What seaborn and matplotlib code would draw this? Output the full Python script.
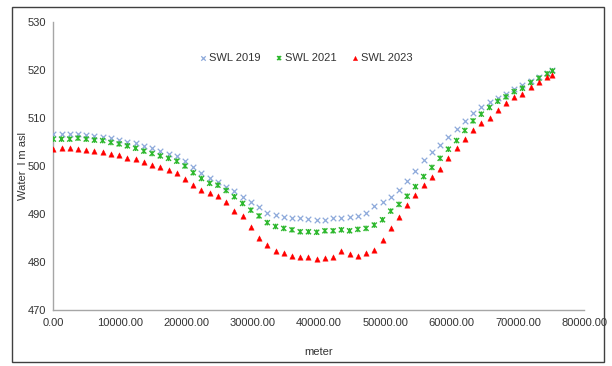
import matplotlib
matplotlib.use("Agg")
import matplotlib.pyplot as plt
import seaborn as sns
import pandas as pd
from matplotlib.path import Path
from matplotlib.patches import Rectangle
from matplotlib.ticker import FuncFormatter, FixedLocator

# ---- data ----
distance = [0, 1240, 2480, 3720, 4960, 6200, 7440, 8680, 9920, 11160,
            12400, 13640, 14880, 16120, 17360, 18600, 19840, 21080, 22320, 23560,
            24800, 26040, 27280, 28520, 29760, 31000, 32240, 33480, 34720, 35960,
            37200, 38440, 39680, 40920, 42160, 43400, 44640, 45880, 47120, 48360,
            49600, 50840, 52080, 53320, 54560, 55800, 57040, 58280, 59520, 60760,
            62000, 63240, 64480, 65720, 66960, 68200, 69440, 70680, 71920, 73160,
            74400, 75200]

swl_2019 = [506.6, 506.6, 506.6, 506.7, 506.5, 506.3, 506.1, 505.8, 505.4, 505.1,
            504.7, 504.2, 503.7, 503.2, 502.6, 502.1, 501.0, 499.7, 498.5, 497.4,
            496.6, 495.7, 494.7, 493.5, 492.4, 491.4, 490.3, 489.8, 489.4, 489.1,
            489.1, 488.9, 488.8, 488.8, 489.1, 489.1, 489.3, 489.6, 490.3, 491.7,
            492.5, 493.5, 495.0, 496.9, 498.9, 501.2, 503.0, 504.4, 506.1, 507.8,
            509.4, 511.0, 512.2, 513.3, 514.1, 515.1, 516.0, 516.9, 517.8, 518.6,
            519.4, 520.1]

swl_2021 = [505.6, 505.6, 505.6, 505.8, 505.6, 505.4, 505.3, 504.9, 504.6, 504.2,
            503.7, 503.1, 502.6, 502.1, 501.6, 501.0, 500.0, 498.6, 497.4, 496.4,
            496.0, 494.9, 493.6, 492.2, 490.8, 489.6, 488.2, 487.4, 487.0, 486.7,
            486.3, 486.3, 486.2, 486.5, 486.5, 486.7, 486.5, 486.8, 487.0, 487.7,
            488.8, 490.6, 492.0, 493.7, 495.7, 497.8, 499.7, 501.6, 503.5, 505.3,
            507.4, 509.4, 510.8, 512.2, 513.5, 514.4, 515.5, 516.2, 517.4, 518.3,
            519.2, 519.8]

swl_2023 = [503.5, 503.7, 503.7, 503.5, 503.3, 503.2, 503.0, 502.6, 502.2, 501.7,
            501.4, 500.8, 500.3, 499.7, 499.2, 498.5, 497.3, 496.0, 494.9, 494.4,
            493.7, 492.4, 490.7, 489.6, 487.2, 484.9, 483.5, 482.2, 481.8, 481.2,
            481.0, 481.0, 480.6, 480.8, 481.1, 482.3, 481.7, 481.2, 481.9, 482.6,
            484.6, 487.0, 489.4, 491.8, 494.0, 496.0, 497.8, 499.4, 501.6, 503.7,
            505.6, 507.4, 508.9, 509.9, 511.7, 513.1, 514.3, 515.1, 516.5, 517.4,
            518.5, 519.0]

series_names = ["SWL 2019", "SWL 2021", "SWL 2023"]
x_ticks = [0, 10000, 20000, 30000, 40000, 50000, 60000, 70000, 80000]
y_ticks = [470, 480, 490, 500, 510, 520, 530]
x_label = "meter"
y_label = "Water  l m asl"

# ---- style ----
sns.set_style("white")
plt.rcParams['font.family'] = ['Liberation Sans', 'DejaVu Sans']

W, H = 612, 366
fig = plt.figure(figsize=(W / 100, H / 100), dpi=100)
x0, x1, y0, y1 = 53.3, 584.3, 22, 310
ax = fig.add_axes([x0 / W, 1 - y1 / H, (x1 - x0) / W, (y1 - y0) / H])

# Excel-like "star" marker: x plus a vertical bar
star = Path([(-1, -1), (1, 1), (-1, 1), (1, -1), (0, -1.1), (0, 1.1)],
            [Path.MOVETO, Path.LINETO, Path.MOVETO, Path.LINETO, Path.MOVETO, Path.LINETO])

blue = "#8EAADB"
green = "#2EB82E"
red = "#FF0000"

sns.scatterplot(x=distance, y=swl_2019, ax=ax, marker="x", color=blue,
                s=16, linewidth=0.9, label=series_names[0], zorder=3)
sns.scatterplot(x=distance, y=swl_2021, ax=ax, marker=star, facecolor="none",
                edgecolor=green, s=16, linewidth=1.0, label=series_names[1], zorder=3)
sns.scatterplot(x=distance, y=swl_2023, ax=ax, marker="^", color=red,
                edgecolor=red, s=15, linewidth=0.3, label=series_names[2], zorder=3)

ax.set_xlim(0, 80000)
ax.set_ylim(470, 530)
ax.xaxis.set_major_locator(FixedLocator(x_ticks))
ax.yaxis.set_major_locator(FixedLocator(y_ticks))
ax.xaxis.set_major_formatter(FuncFormatter(lambda v, p: f"{v:.2f}"))
ax.yaxis.set_major_formatter(FuncFormatter(lambda v, p: f"{v:.0f}"))

for s in ["top", "right"]:
    ax.spines[s].set_visible(False)
for s in ["left", "bottom"]:
    ax.spines[s].set_color("#A6A6A6")
    ax.spines[s].set_linewidth(1.0)

ax.tick_params(axis="both", direction="out", length=3, width=0.8, color="#A6A6A6",
               labelsize=8, labelcolor="#333333", pad=2)
ax.tick_params(axis="x", pad=3)

ax.set_xlabel(x_label, fontsize=8, color="#333333")
ax.set_ylabel(y_label, fontsize=8, color="#333333")
ax.xaxis.set_label_coords(0.5, -0.128)
ax.yaxis.set_label_coords(-0.047, 0.5)

leg = ax.legend(loc="center", bbox_to_anchor=(0.474, 0.875), ncol=3, frameon=False,
                fontsize=8, handletextpad=0.0, columnspacing=1.2, markerscale=0.8,
                handlelength=1.0, borderaxespad=0)
for t in leg.get_texts():
    t.set_color("#333333")

fig.add_artist(Rectangle((12 / W, 1 - 362 / H), (604 - 12) / W, (362 - 7) / H,
                         transform=fig.transFigure, fill=False,
                         edgecolor="#404040", linewidth=1.0))

fig.savefig("out.png", dpi=100)
